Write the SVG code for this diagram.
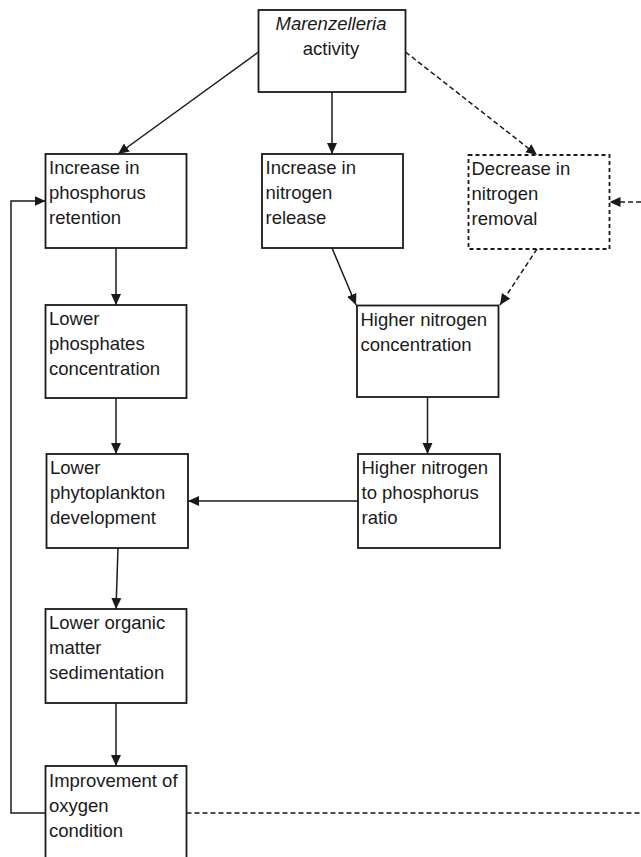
<svg xmlns="http://www.w3.org/2000/svg" width="641" height="857" viewBox="0 0 641 857">
<style>
.box{fill:#fff;stroke:#1a1a1a;stroke-width:1.8}
.dbox{fill:#fff;stroke:#1a1a1a;stroke-width:1.8;stroke-dasharray:4 3}
.t{font-family:"Liberation Sans",Arial,sans-serif;font-size:18.5px;fill:#1a1a1a}
.c{fill:none;stroke:#1a1a1a;stroke-width:1.5}
.d{fill:none;stroke:#1a1a1a;stroke-width:1.5;stroke-dasharray:5 3}
.a{marker-end:url(#ah)}
</style>
<defs>
<marker id="ah" markerUnits="userSpaceOnUse" markerWidth="11" markerHeight="11" refX="11" refY="5.5" orient="auto" viewBox="0 0 11 11">
<path d="M0,0.5 L11,5.5 L0,10.5 z" fill="#1a1a1a"/>
</marker>
</defs>
<rect width="641" height="857" fill="#fff"/>
<g id="connectors">
<line class="c a" x1="258.5" y1="52" x2="118" y2="154"/>
<line class="c a" x1="332" y1="92" x2="332" y2="154"/>
<line class="d a" x1="405.5" y1="52" x2="537" y2="155"/>
<line class="c a" x1="116" y1="248" x2="116" y2="305"/>
<line class="c a" x1="332" y1="248" x2="356" y2="305"/>
<line class="d a" x1="537" y1="249" x2="500" y2="305"/>
<line class="c a" x1="116" y1="398" x2="116" y2="454"/>
<line class="c a" x1="427.5" y1="397" x2="427.5" y2="454"/>
<line class="c a" x1="358" y1="501" x2="188" y2="501"/>
<line class="c a" x1="118" y1="548" x2="116" y2="609"/>
<line class="c a" x1="116" y1="703" x2="116" y2="766"/>
<polyline class="c a" points="45.5,813 11,813 11,201 45.5,201"/>
<line class="d" x1="186.5" y1="813" x2="641" y2="813"/>
<line class="d a" x1="641" y1="202" x2="609.5" y2="202"/>
</g>
<g id="marenzelleria">
<rect class="box" x="258.5" y="10" width="147" height="82"/>
<text class="t" x="331" y="29.5" text-anchor="middle" font-style="italic">Marenzelleria</text>
<text class="t" x="331" y="54.5" text-anchor="middle">activity</text>
</g>
<g id="p-retention">
<rect class="box" x="45.5" y="154" width="141" height="94"/>
<text class="t" x="49" y="173.5">Increase in</text>
<text class="t" x="49" y="198.5">phosphorus</text>
<text class="t" x="49" y="223.5">retention</text>
</g>
<g id="n-release">
<rect class="box" x="262" y="154" width="141" height="94"/>
<text class="t" x="265.5" y="173.5">Increase in</text>
<text class="t" x="265.5" y="198.5">nitrogen</text>
<text class="t" x="265.5" y="223.5">release</text>
</g>
<g id="n-removal">
<rect class="dbox" x="468.5" y="155" width="141" height="94"/>
<text class="t" x="471.5" y="174.5">Decrease in</text>
<text class="t" x="471.5" y="199.5">nitrogen</text>
<text class="t" x="471.5" y="224.5">removal</text>
</g>
<g id="phosphates">
<rect class="box" x="45.5" y="305" width="141" height="93"/>
<text class="t" x="49" y="325">Lower</text>
<text class="t" x="49" y="350">phosphates</text>
<text class="t" x="49" y="375">concentration</text>
</g>
<g id="n-concentration">
<rect class="box" x="357" y="305.5" width="141.5" height="91.5"/>
<text class="t" x="360.5" y="325.5">Higher nitrogen</text>
<text class="t" x="360.5" y="350.5">concentration</text>
</g>
<g id="phytoplankton">
<rect class="box" x="46.5" y="454" width="141.5" height="94"/>
<text class="t" x="50" y="473.5">Lower</text>
<text class="t" x="50" y="498.5">phytoplankton</text>
<text class="t" x="50" y="523.5">development</text>
</g>
<g id="np-ratio">
<rect class="box" x="358" y="454" width="142" height="94"/>
<text class="t" x="361.5" y="473.5">Higher nitrogen</text>
<text class="t" x="361.5" y="498.5">to phosphorus</text>
<text class="t" x="361.5" y="523.5">ratio</text>
</g>
<g id="sedimentation">
<rect class="box" x="45.5" y="609" width="141" height="94"/>
<text class="t" x="49" y="629">Lower organic</text>
<text class="t" x="49" y="654">matter</text>
<text class="t" x="49" y="679">sedimentation</text>
</g>
<g id="oxygen">
<rect class="box" x="45.5" y="766" width="141" height="100"/>
<text class="t" x="49" y="786.5">Improvement of</text>
<text class="t" x="49" y="811.5">oxygen</text>
<text class="t" x="49" y="836.5">condition</text>
</g>
</svg>
